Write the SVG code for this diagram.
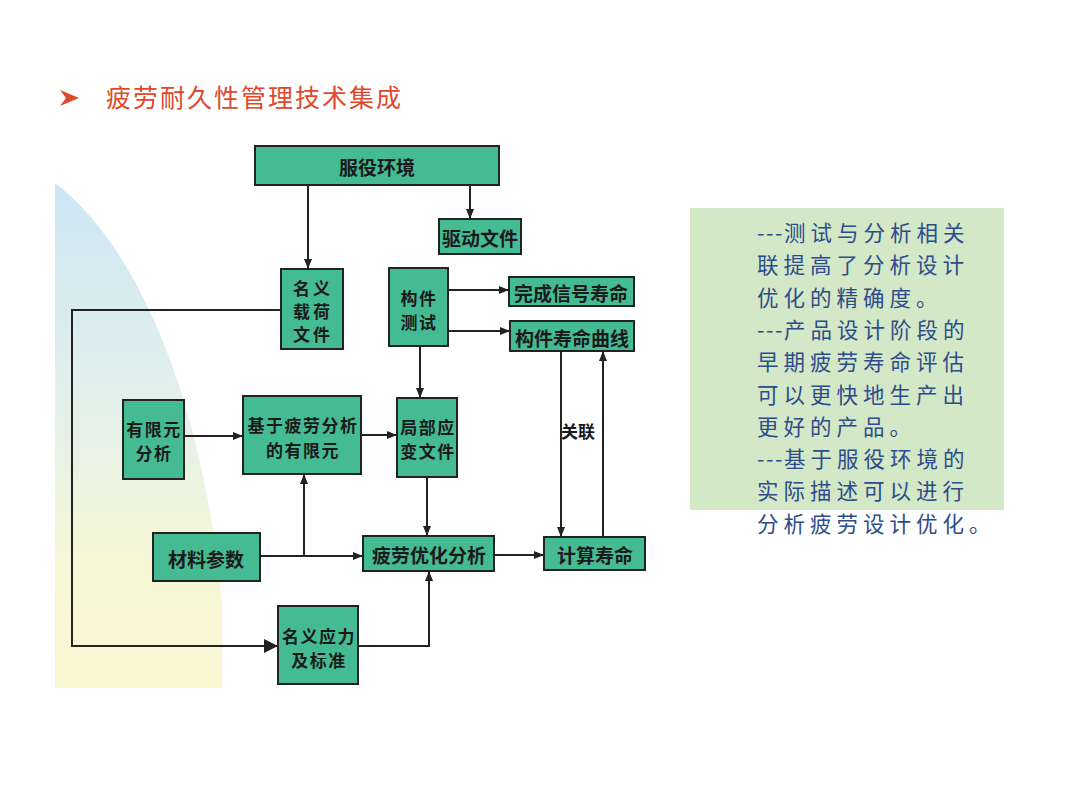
<svg xmlns="http://www.w3.org/2000/svg" width="1076" height="807" viewBox="0 0 1076 807">
<defs>
<linearGradient id="bg" x1="0" y1="0" x2="0" y2="1">
<stop offset="0" stop-color="#cde5f5"/>
<stop offset="0.45" stop-color="#e3f1ea"/>
<stop offset="0.75" stop-color="#f6f7d6"/>
<stop offset="1" stop-color="#f9f8d2"/>
</linearGradient>
<marker id="ah" viewBox="0 0 10 10" refX="10" refY="5" markerWidth="10" markerHeight="10" markerUnits="userSpaceOnUse" orient="auto">
<path d="M0,1 L10,5 L0,9 Z" fill="#222"/>
</marker>
<marker id="ahb" viewBox="0 0 10 10" refX="10" refY="5" markerWidth="14" markerHeight="14" markerUnits="userSpaceOnUse" orient="auto">
<path d="M0,0 L10,5 L0,10 Z" fill="#222"/>
</marker>
<style>
.box{fill:#45bb94;stroke:#222;stroke-width:2}
.nt{font-family:"Noto Sans CJK SC","Noto Sans CJK JP",sans-serif;font-weight:bold;font-size:19px;fill:#1a1a1a;text-anchor:middle;dominant-baseline:central}
.ml{font-size:17px;letter-spacing:1.5px}
.ln{fill:none;stroke:#222;stroke-width:2}
.rt{font-family:"Noto Sans CJK SC",sans-serif;font-size:21.5px;fill:#2e4c8c;letter-spacing:5px}
.dash{letter-spacing:1.5px}
</style>
</defs>
<rect width="1076" height="807" fill="#ffffff"/>
<path d="M55,183 C130,240 200,380 222,600 L222,688 L55,688 Z" fill="url(#bg)"/>
<g id="title">
<polygon points="60,90 79,98 60,106 66,98" fill="#e0482c"/>
<text x="106" y="107" font-family="Noto Sans CJK SC,sans-serif" font-size="25" fill="#e0482c" letter-spacing="2">疲劳耐久性管理技术集成</text>
</g>
<g id="note">
<rect x="690" y="208" width="314" height="302" fill="#d2e8c6"/>
<text class="rt" x="757" y="241"><tspan class="dash">---</tspan>测试与分析相关</text>
<text class="rt" x="757" y="273.3">联提高了分析设计</text>
<text class="rt" x="757" y="305.6">优化的精确度。</text>
<text class="rt" x="757" y="337.9"><tspan class="dash">---</tspan>产品设计阶段的</text>
<text class="rt" x="757" y="370.2">早期疲劳寿命评估</text>
<text class="rt" x="757" y="402.5">可以更快地生产出</text>
<text class="rt" x="757" y="434.8">更好的产品。</text>
<text class="rt" x="757" y="467.1"><tspan class="dash">---</tspan>基于服役环境的</text>
<text class="rt" x="757" y="499.4">实际描述可以进行</text>
<text class="rt" x="757" y="531.7">分析疲劳设计优化。</text>
</g>
<g id="connectors">
<line class="ln" x1="308" y1="185" x2="308" y2="269" marker-end="url(#ah)"/>
<line class="ln" x1="470" y1="185" x2="470" y2="219" marker-end="url(#ah)"/>
<polyline class="ln" points="281,310 72,310 72,646 278,646" marker-end="url(#ahb)"/>
<line class="ln" x1="448" y1="290" x2="509" y2="290" marker-end="url(#ah)"/>
<line class="ln" x1="448" y1="331" x2="510" y2="331" marker-end="url(#ah)"/>
<line class="ln" x1="420" y1="346" x2="420" y2="398" marker-end="url(#ah)"/>
<line class="ln" x1="561" y1="351" x2="561" y2="537" marker-end="url(#ah)"/>
<line class="ln" x1="603" y1="537" x2="603" y2="351" marker-end="url(#ah)"/>
<line class="ln" x1="184" y1="436" x2="243" y2="436" marker-end="url(#ah)"/>
<line class="ln" x1="361" y1="435" x2="397" y2="435" marker-end="url(#ah)"/>
<line class="ln" x1="427" y1="477" x2="427" y2="536" marker-end="url(#ah)"/>
<line class="ln" x1="260" y1="556" x2="363" y2="556" marker-end="url(#ah)"/>
<line class="ln" x1="304" y1="556" x2="304" y2="474" marker-end="url(#ah)"/>
<line class="ln" x1="494" y1="555" x2="544" y2="555" marker-end="url(#ah)"/>
<polyline class="ln" points="358,646 429,646 429,571" marker-end="url(#ah)"/>
<text class="nt" x="578" y="430" style="font-size:17px">关联</text>
</g>
<g id="n-fuyi"><rect class="box" x="255" y="146" width="244" height="39"/><text class="nt" x="377" y="166">服役环境</text></g>
<g id="n-qudong"><rect class="box" x="439" y="219" width="82" height="35"/><text class="nt" x="480" y="237">驱动文件</text></g>
<g id="n-mingyizaihe"><rect class="box" x="281" y="269" width="62" height="80"/><text class="nt ml" x="313" y="287" style="letter-spacing:3px">名义</text><text class="nt ml" x="313" y="310" style="letter-spacing:3px">载荷</text><text class="nt ml" x="313" y="333" style="letter-spacing:3px">文件</text></g>
<g id="n-goujian"><rect class="box" x="389" y="268" width="59" height="78"/><text class="nt ml" x="419" y="297">构件</text><text class="nt ml" x="419" y="321">测试</text></g>
<g id="n-wancheng"><rect class="box" x="509" y="277" width="125" height="29"/><text class="nt" x="571" y="292">完成信号寿命</text></g>
<g id="n-quxian"><rect class="box" x="510" y="321" width="124" height="30"/><text class="nt" x="572" y="337">构件寿命曲线</text></g>
<g id="n-youxianyuan"><rect class="box" x="123" y="400" width="61" height="79"/><text class="nt ml" x="154" y="428">有限元</text><text class="nt ml" x="154" y="452">分析</text></g>
<g id="n-jiyu"><rect class="box" x="243" y="396" width="118" height="78"/><text class="nt ml" x="303" y="424">基于疲劳分析</text><text class="nt ml" x="303" y="449">的有限元</text></g>
<g id="n-jubu"><rect class="box" x="397" y="398" width="60" height="79"/><text class="nt ml" x="428" y="426">局部应</text><text class="nt ml" x="428" y="450">变文件</text></g>
<g id="n-cailiao"><rect class="box" x="153" y="533" width="107" height="48"/><text class="nt" x="206" y="558">材料参数</text></g>
<g id="n-youhua"><rect class="box" x="363" y="536" width="131" height="35"/><text class="nt" x="429" y="554">疲劳优化分析</text></g>
<g id="n-jisuan"><rect class="box" x="544" y="537" width="101" height="33"/><text class="nt" x="595" y="554">计算寿命</text></g>
<g id="n-mingyiyingli"><rect class="box" x="278" y="606" width="80" height="78"/><text class="nt ml" x="319" y="635">名义应力</text><text class="nt ml" x="319" y="659">及标准</text></g>
</svg>
